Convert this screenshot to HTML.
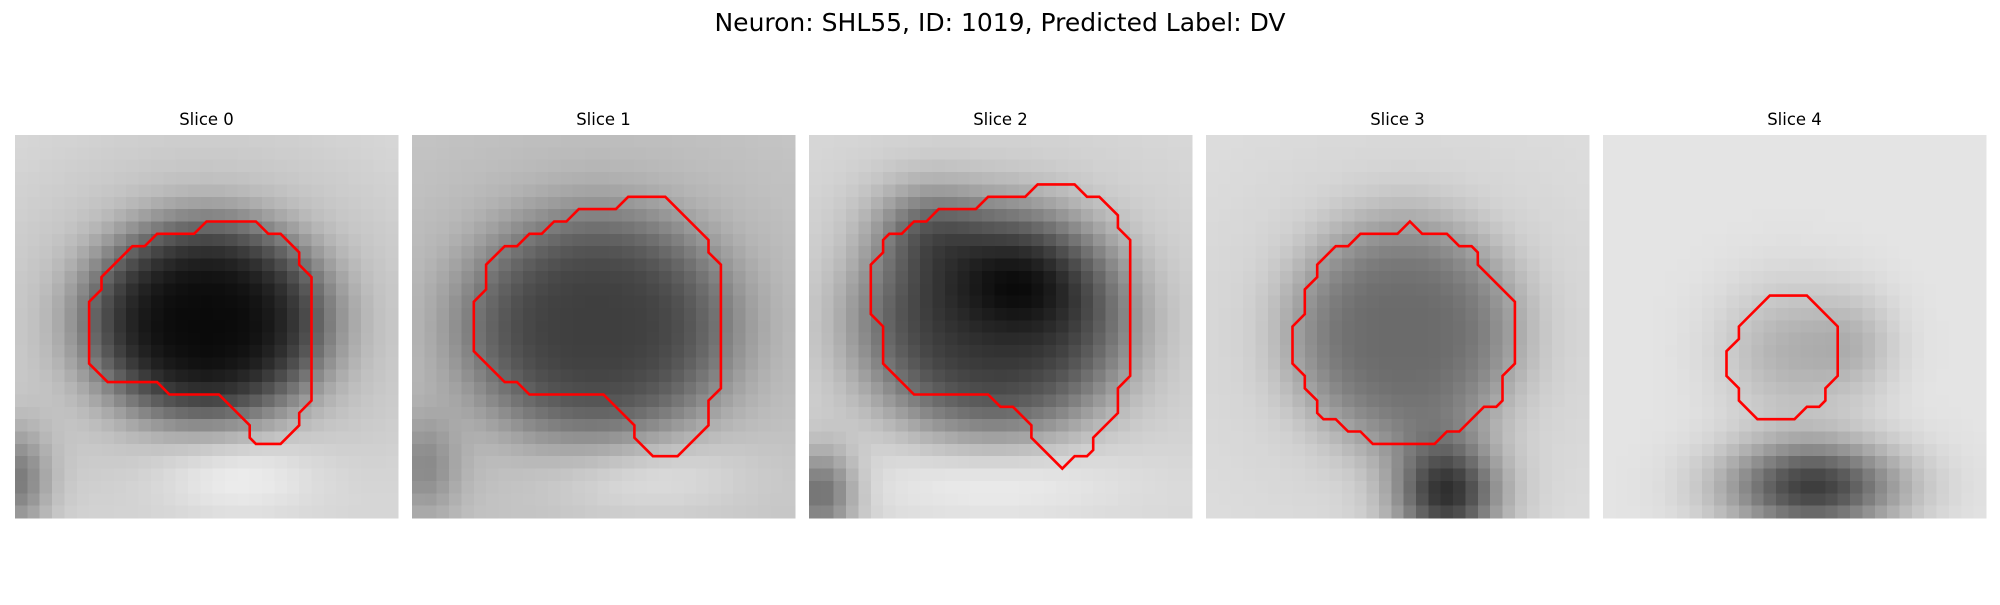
<!DOCTYPE html>
<html><head><meta charset="utf-8">
<style>
html,body{margin:0;padding:0;background:#fff;}
svg text{font-family:"DejaVu Sans","Liberation Sans",sans-serif;fill:#000;}
</style></head>
<body>
<svg id="fig" width="2000" height="600" viewBox="0 0 2000 600" xmlns="http://www.w3.org/2000/svg">
<rect width="2000" height="600" fill="#fff"/>
<text x="1000" y="31" text-anchor="middle" font-size="25">Neuron: SHL55, ID: 1019, Predicted Label: DV</text>
<g id="panels"></g>
</svg>
<script>
// Data
const sliceTitles = ["Slice 0","Slice 1","Slice 2","Slice 3","Slice 4"];
const gridSize = 31;
const bgLevels = [0.80, 0.74, 0.80, 0.82, 0.84];
// blobs per slice: [cx, cy, sx, sy, amplitude, exponent]
const blobs0 = [[15.5,15,8.5,7,0.62,4],[15.5,15.5,11,9.5,0.2,2],[18,27.5,5,2.5,-0.15,2],[0,28,2,3,0.35,2]];
const blobs1 = [[15,15.5,9.5,8,0.38,4],[15,15,12,10,0.12,2],[19,27.5,6,2.5,-0.12,2],[1,27,2,3,0.2,2]];
const blobs2 = [[15,15,9.5,8,0.5,4],[17,12,4,3,0.2,2],[9,7,3,2.5,0.2,2],[15,16,12,10,0.12,2],[1,29,2,2.5,0.4,2],[15,28,8,2.5,-0.12,2]];
const blobs3 = [[16,16,8,8,0.34,4],[19.5,29,3,3,0.6,2],[16,16,11,10,0.08,2]];
const blobs4 = [[15,17.5,4,4,0.18,2],[17,28.5,5,2.6,0.6,2],[20.5,17,2.5,3,0.12,2]];
const sliceBlobs = [blobs0, blobs1, blobs2, blobs3, blobs4];
// contours in cell units (x, y)
const contour0 = [[15.5,7],[19.5,7],[20.5,8],[21.5,8],[23,9.5],[23,10.5],[24,11.5],[24,21.5],[23,22.5],[23,23.5],[21.5,25],[19.5,25],[19,24.5],[19,23.5],[16.5,21],[12.5,21],[11.5,20],[7.5,20],[6,18.5],[6,13.5],[7,12.5],[7,11.5],[9.5,9],[10.5,9],[11.5,8],[14.5,8]];
const contour1 = [[17.5,5],[20.5,5],[24,8.5],[24,9.5],[25,10.5],[25,20.5],[24,21.5],[24,23.5],[21.5,26],[19.5,26],[18,24.5],[18,23.5],[15.5,21],[9.5,21],[8.5,20],[7.5,20],[5,17.5],[5,13.5],[6,12.5],[6,10.5],[7.5,9],[8.5,9],[9.5,8],[10.5,8],[11.5,7],[12.5,7],[13.5,6],[16.5,6]];
const contour2 = [[18.5,4],[21.5,4],[22.5,5],[23.5,5],[25,6.5],[25,7.5],[26,8.5],[26,19.5],[25,20.5],[25,22.5],[23,24.5],[23,25.5],[22.5,26],[21.5,26],[20.5,27],[18,24.5],[18,23.5],[16.5,22],[15.5,22],[14.5,21],[8.5,21],[6,18.5],[6,15.5],[5,14.5],[5,10.5],[6,9.5],[6,8.5],[6.5,8],[7.5,8],[8.5,7],[9.5,7],[10.5,6],[13.5,6],[14.5,5],[17.5,5]];
const contour3 = [[16.5,7],[17.5,8],[19.5,8],[20.5,9],[21.5,9],[22,9.5],[22,10.5],[25,13.5],[25,18.5],[24,19.5],[24,21.5],[23.5,22],[22.5,22],[20.5,24],[19.5,24],[18.5,25],[13.5,25],[12.5,24],[11.5,24],[10.5,23],[9.5,23],[9,22.5],[9,21.5],[8,20.5],[8,19.5],[7,18.5],[7,15.5],[8,14.5],[8,12.5],[9,11.5],[9,10.5],[10.5,9],[11.5,9],[12.5,8],[15.5,8]];
const contour4 = [[13.5,13],[16.5,13],[19,15.5],[19,19.5],[18,20.5],[18,21.5],[17.5,22],[16.5,22],[15.5,23],[12.5,23],[11,21.5],[11,20.5],[10,19.5],[10,17.5],[11,16.5],[11,15.5]];
const sliceContours = [contour0, contour1, contour2, contour3, contour4];

// Layout
const panelX0 = 15, panelStep = 397, panelTop = 135, panelSize = 383;
const cell = panelSize / gridSize;
const NS = "http://www.w3.org/2000/svg";
const root = document.getElementById('panels');

function intensity(blobs, bg, x, y) {
  let v = bg;
  for (const b of blobs) {
    const dx = (x - b[0]) / b[2], dy = (y - b[1]) / b[3];
    const d2 = dx*dx + dy*dy;
    v -= b[4] * Math.exp(-Math.pow(d2, b[5]/2) / 2);
  }
  return v;
}

sliceTitles.forEach((title, i) => {
  const ox = panelX0 + i * panelStep;
  const g = document.createElementNS(NS, 'g');
  
  
  root.appendChild(g);

  const t = document.createElementNS(NS, 'text');
  
  
  t.setAttribute('x', ox + panelSize / 2);
  t.setAttribute('y', 125);
  t.setAttribute('text-anchor', 'middle');
  t.setAttribute('font-size', '16.5');
  t.textContent = title;
  g.appendChild(t);

  const vals = [];
  let mn = Infinity, mx = -Infinity;
  for (let r = 0; r < gridSize; r++) for (let c = 0; c < gridSize; c++) {
    const v = intensity(sliceBlobs[i], bgLevels[i], c + 0.5, r + 0.5);
    vals.push(v); mn = Math.min(mn, v); mx = Math.max(mx, v);
  }
  const img = document.createElementNS(NS, 'g');
  
  
  img.setAttribute('shape-rendering', 'crispEdges');
  g.appendChild(img);
  for (let r = 0; r < gridSize; r++) for (let c = 0; c < gridSize; c++) {
    const v = vals[r * gridSize + c];
    const n = Math.max(0, Math.min(1, (v - Math.min(mn, 0.05)) / (Math.max(mx, 0.9) - Math.min(mn, 0.05))));
    const gv = Math.round(n * 235 + 10);
    const rect = document.createElementNS(NS, 'rect');
    
    
    rect.setAttribute('x', (ox + c * cell).toFixed(2));
    rect.setAttribute('y', (panelTop + r * cell).toFixed(2));
    rect.setAttribute('width', (cell + 0.6).toFixed(2));
    rect.setAttribute('height', (cell + 0.6).toFixed(2));
    rect.setAttribute('fill', `rgb(${gv},${gv},${gv})`);
    img.appendChild(rect);
  }

  const pts = sliceContours[i].map(p => (ox + p[0] * cell).toFixed(1) + ',' + (panelTop + p[1] * cell).toFixed(1)).join(' ');
  const poly = document.createElementNS(NS, 'polygon');
  
  
  poly.setAttribute('points', pts);
  poly.setAttribute('fill', 'none');
  poly.setAttribute('stroke', '#ff0000');
  poly.setAttribute('stroke-width', '2.6');
  poly.setAttribute('stroke-linejoin', 'miter');
  g.appendChild(poly);
});
</script>
</body></html>
